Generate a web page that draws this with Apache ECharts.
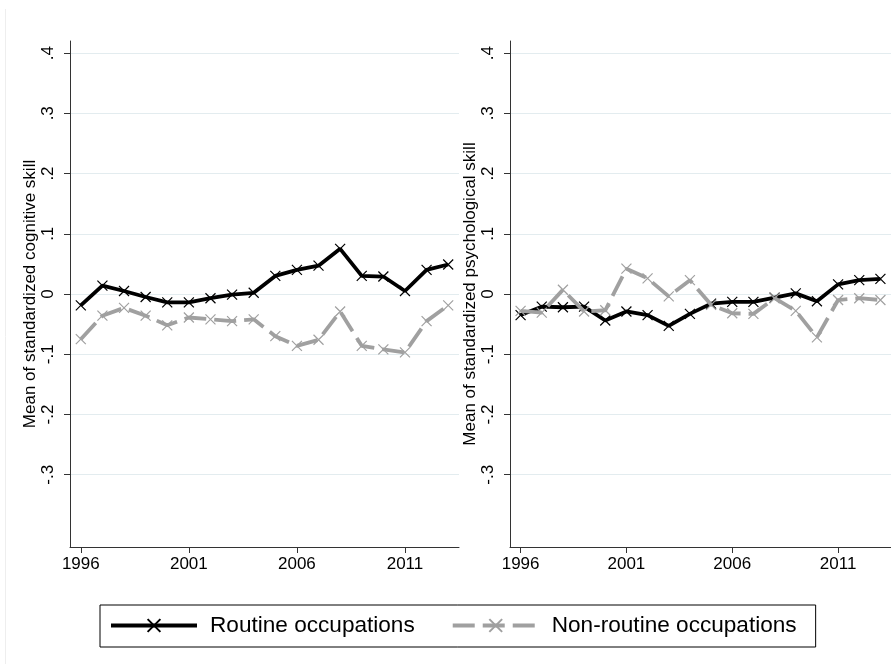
<!DOCTYPE html>
<html>
<head>
<meta charset="utf-8">
<script src="https://cdn.jsdelivr.net/npm/echarts@6/dist/echarts.min.js"></script>
<style>
  html, body { margin: 0; padding: 0; background: #fff; }
  #chart { width: 891px; height: 664px; }
</style>
</head>
<body>
<div id="chart"></div>
<script>
const years = [1996, 1997, 1998, 1999, 2000, 2001, 2002, 2003, 2004, 2005, 2006, 2007, 2008, 2009, 2010, 2011, 2012, 2013];
const cogRoutine    = [-0.019, 0.014, 0.005, -0.005, -0.014, -0.014, -0.007, -0.001, 0.002, 0.030, 0.040, 0.047, 0.075, 0.030, 0.029, 0.005, 0.040, 0.049];
const cogNonRoutine = [-0.075, -0.036, -0.023, -0.036, -0.052, -0.039, -0.042, -0.045, -0.042, -0.070, -0.086, -0.076, -0.029, -0.086, -0.092, -0.097, -0.045, -0.019];
const psyRoutine    = [-0.035, -0.021, -0.022, -0.021, -0.044, -0.029, -0.035, -0.053, -0.033, -0.016, -0.013, -0.013, -0.006, 0.001, -0.012, 0.016, 0.023, 0.025];
const psyNonRoutine = [-0.028, -0.031, 0.007, -0.029, -0.027, 0.042, 0.026, -0.004, 0.023, -0.018, -0.032, -0.033, -0.007, -0.028, -0.072, -0.010, -0.007, -0.010];

const seriesNames = ['Routine occupations', 'Non-routine occupations'];
const yTitles = ['Mean of standardized cognitive skill', 'Mean of standardized psychological skill'];
const yTicks = [-0.3, -0.2, -0.1, 0, 0.1, 0.2, 0.3, 0.4];
const yTickLabels = ['-.3', '-.2', '-.1', '0', '.1', '.2', '.3', '.4'];
const xTicks = [1996, 2001, 2006, 2011];

const FONT = 'Liberation Sans, Arial, sans-serif';
const xPath = 'path://M0,0L10,10M10,0L0,10';

function pairs(vals) { return years.map((y, i) => [y, vals[i]]); }
function yLabel(v) {
  let best = 0, d = Infinity;
  yTicks.forEach((t, i) => { const dd = Math.abs(t - v); if (dd < d) { d = dd; best = i; } });
  return yTickLabels[best];
}

const grids = [
  { left: 70, top: 41, width: 389, height: 506 },
  { left: 510, top: 41, width: 389, height: 506 }
];

const xAxes = grids.map((g, i) => ({
  type: 'value', gridIndex: i, min: 1995.5, max: 2013.5,
  axisLine: { show: true, onZero: false, lineStyle: { color: '#333', width: 1 } },
  axisTick: { show: true, length: 6, customValues: xTicks, lineStyle: { color: '#333' } },
  axisLabel: { customValues: xTicks, formatter: v => String(v), fontFamily: FONT, fontSize: 17, color: '#000', margin: 9 },
  splitLine: { show: false }
}));

const yAxes = grids.map((g, i) => ({
  type: 'value', gridIndex: i, min: -0.42, max: 0.42,
  name: yTitles[i], nameLocation: 'middle', nameRotate: 90, nameGap: 31,
  nameTextStyle: { fontFamily: FONT, fontSize: 17, color: '#000' },
  axisLine: { show: true, onZero: false, lineStyle: { color: '#333', width: 1 } },
  axisTick: { show: true, length: 6, customValues: yTicks, lineStyle: { color: '#333' } },
  axisLabel: { customValues: yTicks, rotate: 90, formatter: yLabel, fontFamily: FONT, fontSize: 17, color: '#000', margin: 13 },
  splitLine: { show: true, lineStyle: { color: '#e3ecef', width: 1 } }
}));

function mk(name, vals, idx, gray) {
  const c = gray ? '#a0a0a0' : '#000000';
  return {
    type: 'line', name: name, xAxisIndex: idx, yAxisIndex: idx, data: pairs(vals),
    symbol: xPath, symbolSize: 10, showSymbol: true, showAllSymbol: true,
    lineStyle: { color: c, width: 3.8, type: gray ? [22, 8] : 'solid' },
    itemStyle: { color: c, borderColor: c, borderWidth: 1.2 },
    emphasis: { disabled: true }, silent: true, z: gray ? 3 : 2
  };
}

const chart = echarts.init(document.getElementById('chart'), null, { renderer: 'canvas' });
chart.setOption({
  animation: false,
  backgroundColor: '#ffffff',
  grid: grids,
  xAxis: xAxes,
  yAxis: yAxes,
  legend: {
    data: seriesNames, left: 100, top: 605, orient: 'horizontal',
    padding: [9, 19, 10, 9], borderColor: '#000', borderWidth: 1,
    itemWidth: 86, itemHeight: 16, itemGap: 36,
    lineStyle: { width: 4 },
    textStyle: { fontFamily: FONT, fontSize: 22.6, color: '#000', padding: [0, 0, 0, 8], lineHeight: 22 },
    selectedMode: false
  },
  graphic: [
    { type: 'line', shape: { x1: 5.5, y1: 9, x2: 5.5, y2: 664 }, style: { stroke: '#eeeeee', lineWidth: 1 }, silent: true }
  ],
  series: [
    mk(seriesNames[0], cogRoutine, 0, false),
    mk(seriesNames[1], cogNonRoutine, 0, true),
    mk(seriesNames[0], psyRoutine, 1, false),
    mk(seriesNames[1], psyNonRoutine, 1, true)
  ]
});
</script>
</body>
</html>
